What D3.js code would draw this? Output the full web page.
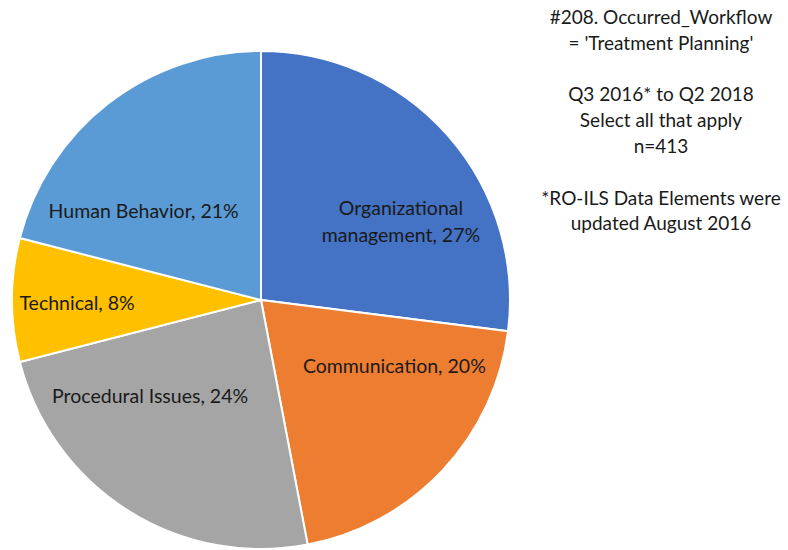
<!DOCTYPE html>
<html><head><meta charset="utf-8">
<script src="https://cdn.jsdelivr.net/npm/d3@7"></script>
<style>body{margin:0;background:#fff}</style>
</head><body>
<svg id="c" width="788" height="550"></svg>
<script>
const categories = ["Organizational management", "Communication", "Procedural Issues", "Technical", "Human Behavior"];
const values = [27, 20, 24, 8, 21];
const colors = ["#4472C4", "#ED7D31", "#A5A5A5", "#FFC000", "#5B9BD5"];
const noteLines = ["#208. Occurred_Workflow", "= 'Treatment Planning'", "", "Q3 2016* to Q2 2018", "Select all that apply", "n=413", "", "*RO-ILS Data Elements were", "updated August 2016"];
// label layout (angle in degrees clockwise from 12 o'clock, radius px, line breaks)
const labelLayout = [
  {a: 61, r: 160, lines: ["Organizational", "management, 27%"]},
  {a: 116.5, r: 149, lines: ["Communication, 20%"]},
  {a: 229, r: 147, lines: ["Procedural Issues, 24%"]},
  {a: 269, r: 184, lines: ["Technical, 8%"]},
  {a: 307, r: 147, lines: ["Human Behavior, 21%"]}
];

const svg = d3.select("#c");
const cx = 261, cy = 300, R = 249;
const font = "Lato, 'Open Sans', sans-serif";
const g = svg.append("g").attr("transform", `translate(${cx},${cy})`);
const pie = d3.pie().sort(null).value(d => d)(values);
const arc = d3.arc().innerRadius(0).outerRadius(R);
g.selectAll("path").data(pie).join("path")
  .attr("d", arc)
  .attr("fill", (d, i) => colors[i])
  .attr("stroke", "#fff").attr("stroke-width", 2);

labelLayout.forEach((L, i) => {
  const ang = L.a * Math.PI / 180;
  const x = L.r * Math.sin(ang), y = -L.r * Math.cos(ang);
  const n = L.lines.length, lh = 27;
  const t = g.append("text").attr("text-anchor", "middle")
    .attr("font-family", font).attr("font-size", 19.5).attr("fill", "#1a1a1a");
  L.lines.forEach((s, k) => {
    t.append("tspan").attr("x", x).attr("y", y + (k - (n - 1) / 2) * lh + 6.5).text(s);
  });
});

const nt = svg.append("text").attr("text-anchor", "middle")
  .attr("font-family", font).attr("font-size", 19).attr("fill", "#1a1a1a");
noteLines.forEach((s, k) => {
  nt.append("tspan").attr("x", 661).attr("y", 24 + k * 25.8).text(s);
});
</script>
</body></html>
